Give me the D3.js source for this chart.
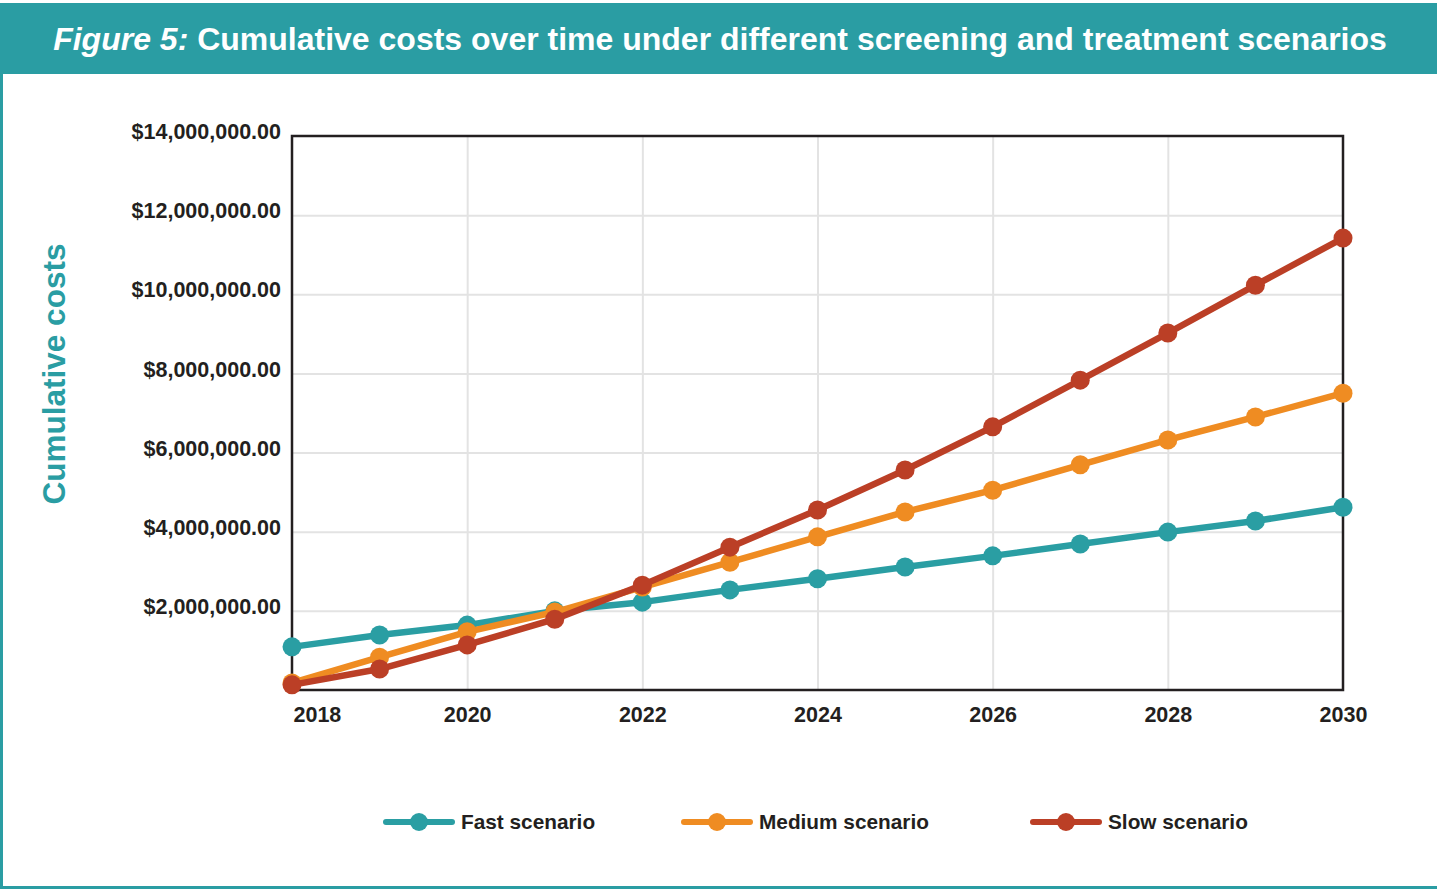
<!DOCTYPE html>
<html lang="en">
<head>
<meta charset="utf-8">
<title>Figure 5</title>
<script src="https://cdn.jsdelivr.net/npm/d3@7"></script>
<style>
  html, body { margin: 0; padding: 0; background: #fff; }
  body { width: 1437px; height: 889px; overflow: hidden; font-family: "Liberation Sans", Arial, sans-serif; }
  .grid line { stroke: #e3e3e3; stroke-width: 2px; }
  .tick text { font-weight: bold; fill: #231f20; }
</style>
</head>
<body>
<div id="chart"></div>
<script>
var years = [2018, 2019, 2020, 2021, 2022, 2023, 2024, 2025, 2026, 2027, 2028, 2029, 2030];
var fast = [1.09e6, 1.39e6, 1.64e6, 2.0e6, 2.22e6, 2.53e6, 2.81e6, 3.11e6, 3.39e6, 3.69e6, 3.99e6, 4.27e6, 4.62e6];
var medium = [0.18e6, 0.83e6, 1.47e6, 1.97e6, 2.6e6, 3.23e6, 3.87e6, 4.5e6, 5.05e6, 5.69e6, 6.32e6, 6.9e6, 7.5e6];
var slow = [0.13e6, 0.53e6, 1.14e6, 1.79e6, 2.65e6, 3.61e6, 4.55e6, 5.56e6, 6.65e6, 7.83e6, 9.02e6, 10.23e6, 11.42e6];
var yTicks = [2e6, 4e6, 6e6, 8e6, 10e6, 12e6, 14e6];
var xTicks = [2018, 2020, 2022, 2024, 2026, 2028, 2030];
var seriesNames = ["Fast scenario", "Medium scenario", "Slow scenario"];
var colors = ["#2a9ea3", "#ef8c22", "#bb3f26"];

var width = 1437, height = 889;
var teal = "#2a9da3";

var svg = d3.select("#chart").append("svg")
    .attr("width", width)
    .attr("height", height);

// frame and title bar
svg.append("rect").attr("x", 0).attr("y", 3).attr("width", width).attr("height", 71).attr("fill", teal);
svg.append("rect").attr("x", 0).attr("y", 74).attr("width", 3).attr("height", height - 74).attr("fill", teal);
svg.append("rect").attr("x", 0).attr("y", height - 3).attr("width", width).attr("height", 3).attr("fill", teal);

var title = svg.append("text")
    .attr("x", 720).attr("y", 50)
    .attr("text-anchor", "middle")
    .attr("fill", "#fff")
    .style("font-size", "32px")
    .style("font-weight", "bold");
title.append("tspan").style("font-style", "italic").text("Figure 5:");
title.append("tspan").text(" Cumulative costs over time under different screening and treatment scenarios");

var mLeft = 292, mRight = 1343, mTop = 136, mBottom = 690;

var x = d3.scaleLinear().domain([2018, 2030]).range([mLeft, mRight]);
var y = d3.scaleLinear().domain([0, 14e6]).range([mBottom, mTop]);

// grid
svg.append("g").attr("class", "grid")
    .attr("transform", "translate(0," + mBottom + ")")
    .call(d3.axisBottom(x).tickValues(xTicks.slice(1, -1)).tickSize(-(mBottom - mTop)).tickFormat(""))
    .call(function(g) { g.select(".domain").remove(); });
svg.append("g").attr("class", "grid")
    .attr("transform", "translate(" + mLeft + ",0)")
    .call(d3.axisLeft(y).tickValues(yTicks.slice(0, -1)).tickSize(-(mRight - mLeft)).tickFormat(""))
    .call(function(g) { g.select(".domain").remove(); });

// axes labels
var fmt = d3.format("$,.2f");
svg.append("g")
    .attr("transform", "translate(" + mLeft + ",0)")
    .call(d3.axisLeft(y).tickValues(yTicks).tickSize(0).tickPadding(11).tickFormat(fmt))
    .call(function(g) {
      g.select(".domain").remove();
      g.selectAll("text").style("font-size", "21.5px").attr("dy", "0.12em");
    });

svg.append("g")
    .attr("transform", "translate(0," + mBottom + ")")
    .call(d3.axisBottom(x).tickValues(xTicks).tickSize(0).tickPadding(17).tickFormat(d3.format("d")))
    .call(function(g) {
      g.select(".domain").remove();
      g.selectAll("text").style("font-size", "21.5px")
        .filter(function(d) { return d === 2018; })
        .attr("text-anchor", "start").attr("x", 1);
    });

// plot frame
svg.append("rect")
    .attr("x", mLeft).attr("y", mTop)
    .attr("width", mRight - mLeft).attr("height", mBottom - mTop)
    .attr("fill", "none").attr("stroke", "#231f20").attr("stroke-width", 2.5);

svg.append("text")
    .attr("transform", "translate(65,374) rotate(-90)")
    .attr("text-anchor", "middle")
    .attr("fill", teal)
    .style("font-size", "31.5px")
    .style("font-weight", "bold")
    .text("Cumulative costs");

// series
var data = [fast, medium, slow];
var line = d3.line()
    .x(function(d, i) { return x(years[i]); })
    .y(function(d) { return y(d); });

data.forEach(function(vals, k) {
  svg.append("path")
      .datum(vals)
      .attr("d", line)
      .attr("fill", "none")
      .attr("stroke", colors[k])
      .attr("stroke-width", 6.5)
      .attr("stroke-linejoin", "round");
  svg.selectAll(".pt" + k)
      .data(vals)
    .enter().append("circle")
      .attr("class", "pt" + k)
      .attr("cx", function(d, i) { return x(years[i]); })
      .attr("cy", function(d) { return y(d); })
      .attr("r", 9.5)
      .attr("fill", colors[k]);
});

// legend
var legendX = [386, 684, 1033];
seriesNames.forEach(function(name, k) {
  var g = svg.append("g").attr("transform", "translate(" + legendX[k] + ",822)");
  g.append("line").attr("x1", 0).attr("x2", 66).attr("y1", 0).attr("y2", 0)
      .attr("stroke", colors[k]).attr("stroke-width", 6).attr("stroke-linecap", "round");
  g.append("circle").attr("cx", 33).attr("cy", 0).attr("r", 9).attr("fill", colors[k]);
  g.append("text").attr("x", 75).attr("y", 7)
      .attr("fill", "#231f20")
      .style("font-size", "20.8px")
      .style("font-weight", "bold")
      .text(name);
});
</script>
</body>
</html>
